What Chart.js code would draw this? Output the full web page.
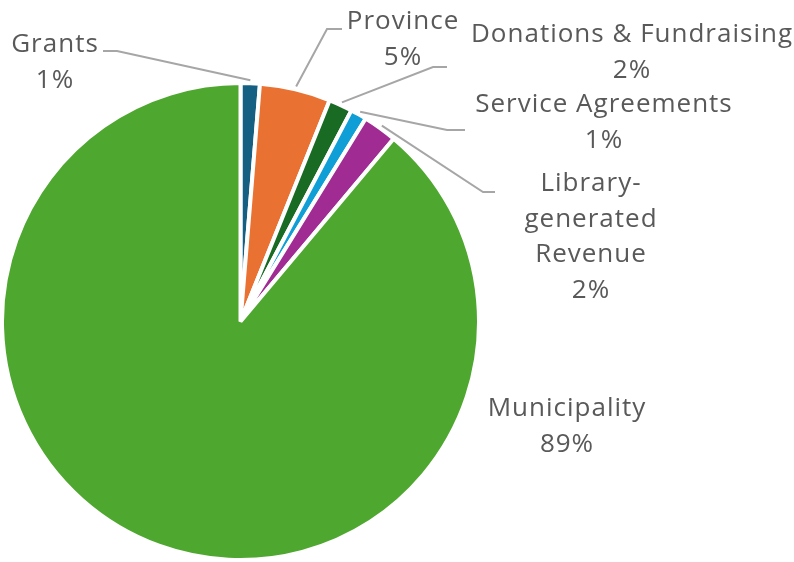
<!DOCTYPE html>
<html>
<head>
<meta charset="utf-8">
<script src="https://cdn.jsdelivr.net/npm/chart.js@4/dist/chart.umd.min.js"></script>
<style>
    html, body { margin: 0; padding: 0; background: #ffffff; }
    #wrap { width: 794px; height: 562px; position: relative; }
</style>
</head>
<body>
<div id="wrap"><canvas id="revenueChart"></canvas></div>
<script>
// Revenue sources (percent of total)
const categories = ['Grants', 'Province', 'Donations & Fundraising', 'Service Agreements', 'Library-generated Revenue', 'Municipality'];
const shares = [1.3, 4.8, 1.6, 1.1, 2.3, 88.9];
const sliceColors = ['#156082', '#E97132', '#196B24', '#0F9ED5', '#A02B93', '#4EA72E'];

// how each category name is broken over lines in the label
const labelLines = [
    ['Grants'],
    ['Province'],
    ['Donations & Fundraising'],
    ['Service Agreements'],
    ['Library-', 'generated', 'Revenue'],
    ['Municipality']
];

// label placement: text centre x, first baseline y, leader line (horizontal part) or null
const labelLayout = [
    { x: 55, y: 52, leader: { y: 51, from: 103, to: 117 } },
    { x: 403, y: 29, leader: { y: 29, from: 342, to: 327 } },
    { x: 632, y: 42, leader: { y: 67, from: 447, to: 433 } },
    { x: 604, y: 112, leader: { y: 130, from: 465, to: 447 } },
    { x: 591, y: 191, leader: { y: 192, from: 495, to: 483 } },
    { x: 567, y: 416, leader: null }
];

const FONT = '26px "Open Sans", Lato, sans-serif';
const LINE_H = 35.5;

const outsideLabels = {
    id: 'outsideLabels',
    afterDatasetsDraw(chart) {
        const ctx = chart.ctx;
        const arcs = chart.getDatasetMeta(0).data;
        const total = shares.reduce((a, b) => a + b, 0);
        ctx.save();
        arcs.forEach((arc, i) => {
            const lay = labelLayout[i];
            // leader line
            if (lay.leader) {
                const mid = (arc.startAngle + arc.endAngle) / 2;
                const r = arc.outerRadius + 3;
                const ex = arc.x + Math.cos(mid) * r;
                const ey = arc.y + Math.sin(mid) * r;
                ctx.beginPath();
                ctx.moveTo(lay.leader.from, lay.leader.y);
                ctx.lineTo(lay.leader.to, lay.leader.y);
                ctx.lineTo(ex, ey);
                ctx.strokeStyle = '#A6A6A6';
                ctx.lineWidth = 2;
                ctx.stroke();
            }
            // text
            const lines = labelLines[i].concat([Math.round(shares[i] / total * 100) + '%']);
            ctx.font = FONT;
            ctx.letterSpacing = '1px';
            ctx.fillStyle = '#595959';
            ctx.textAlign = 'center';
            ctx.textBaseline = 'alphabetic';
            lines.forEach((t, k) => {
                ctx.fillText(t, lay.x, lay.y + k * LINE_H);
            });
        });
        ctx.restore();
    }
};

new Chart(document.getElementById('revenueChart'), {
    type: 'pie',
    data: {
        labels: categories,
        datasets: [{
            data: shares,
            backgroundColor: sliceColors,
            borderColor: '#ffffff',
            borderWidth: 4,
            hoverOffset: 0
        }]
    },
    options: {
        responsive: true,
        maintainAspectRatio: false,
        animation: false,
        layout: {
            padding: { left: 0, right: 313, top: 81, bottom: 0 }
        },
        plugins: {
            legend: { display: false },
            tooltip: { enabled: false }
        }
    },
    plugins: [outsideLabels]
});
</script>
</body>
</html>
